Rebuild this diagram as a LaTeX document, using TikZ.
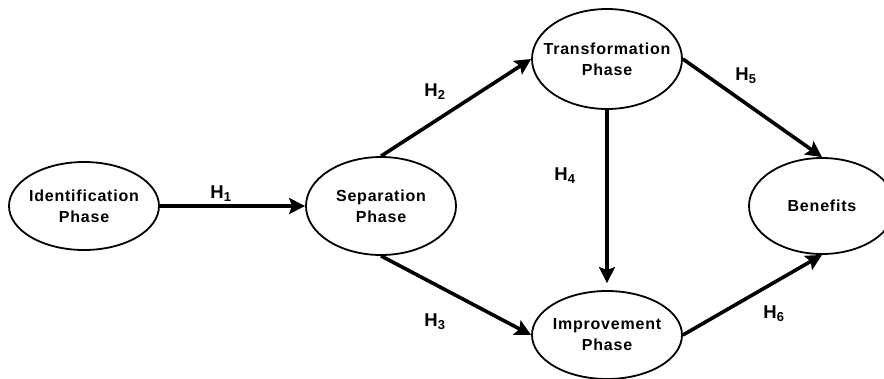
\documentclass[tikz,border=0pt]{standalone}
\usepackage{fontspec}
\setmainfont{Liberation Sans}
\newfontfamily\phasefont[LetterSpace=5]{Liberation Sans}
\usetikzlibrary{arrows.meta,positioning,shapes.geometric}

\begin{document}
\begin{tikzpicture}
  [x=1pt,y=-1pt,on grid,>={Stealth[length=16pt,width=16pt,inset=3pt]},
  phase/.style={ellipse,draw,line width=1.8pt,minimum width=150pt,minimum height=92pt,
    inner xsep=-20pt,inner ysep=0pt,align=center,
    font=\phasefont\bfseries\fontsize{16}{21}\selectfont},
  hyp/.style={font=\bfseries\fontsize{18.5}{20}\selectfont},
  link/.style={->,line width=3.6pt}]
  \useasboundingbox (0,0) rectangle (884,378);
  \node[phase,minimum height=88pt] (identification) at (84,206) {Identification\\Phase};
  \node[phase,minimum height=98pt] (separation) [right=297pt of identification] {Separation\\Phase};
  \node[phase,minimum height=100pt] (transformation) [above right=147pt and 226pt of separation] {Transformation\\Phase};
  \node[phase,minimum height=88pt] (improvement) [below=276pt of transformation] {Improvement\\Phase};
  \node[phase,minimum width=146pt,minimum height=96pt] (benefits) [right=441pt of separation] {Benefits};
  \draw[link] (identification) -- (separation);
  \draw[link] (separation.north) -- (transformation.west);
  \draw[link] (separation.south) -- (improvement.west);
  \draw[link,shorten >=7pt] (transformation) -- (improvement);
  \draw[link] (transformation.east) -- (benefits.north);
  \draw[link] (improvement.east) -- (benefits.south);
  % hypothesis labels
  \node[hyp] (h1) at (221,194) {H\textsubscript{1}};
  \node[hyp] (h2) at (435,92) {H\textsubscript{2}};
  \node[hyp] (h3) at (435,322) {H\textsubscript{3}};
  \node[hyp] (h4) at (565,176) {H\textsubscript{4}};
  \node[hyp] (h5) at (746,76) {H\textsubscript{5}};
  \node[hyp] (h6) at (774,314) {H\textsubscript{6}};
\end{tikzpicture}
\end{document}
